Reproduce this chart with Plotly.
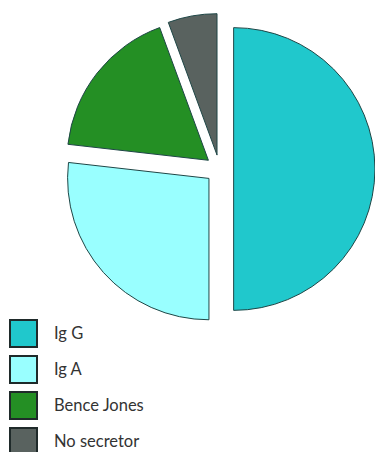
import plotly.graph_objects as go

# Share of cases by secretion type
labels = ["Ig G", "Ig A", "Bence Jones", "No secretor"]
values = [50.0, 26.8, 17.6, 5.6]
colors = ["#20C8CC", "#99FFFF", "#248F24", "#59625F"]

W, H = 375, 452

fig = go.Figure(
    go.Pie(
        labels=labels,
        values=values,
        sort=False,
        direction="clockwise",
        rotation=0,
        pull=[0.1] * len(values),
        marker=dict(colors=colors, line=dict(color="#1E4646", width=1)),
        textinfo="none",
        hoverinfo="label+percent",
        showlegend=False,
        domain=dict(x=[64 / W, 1.0], y=[1 - 325 / H, 1 - 13 / H]),
    )
)

# Legend: swatch squares with labels, stacked at the lower left
sq_left, sq_size, first_top, step = 10, 27, 320, 36
for i, (lab, col) in enumerate(zip(labels, colors)):
    top = first_top + i * step
    fig.add_shape(
        type="rect",
        xref="paper", yref="paper",
        x0=sq_left / W, x1=(sq_left + sq_size) / W,
        y0=1 - (top + sq_size) / H, y1=1 - top / H,
        fillcolor=col,
        line=dict(color="#1F2A2A", width=2),
    )
    fig.add_annotation(
        xref="paper", yref="paper",
        x=52 / W, y=1 - (top + sq_size / 2 - 1) / H,
        xanchor="left", yanchor="middle",
        text=lab, showarrow=False,
        font=dict(family="Lato, Open Sans, sans-serif", size=16.5, color="#333333"),
    )

fig.update_layout(
    width=W, height=H,
    margin=dict(l=0, r=0, t=0, b=0),
    paper_bgcolor="white",
    plot_bgcolor="white",
)

fig.write_html("out.html")
